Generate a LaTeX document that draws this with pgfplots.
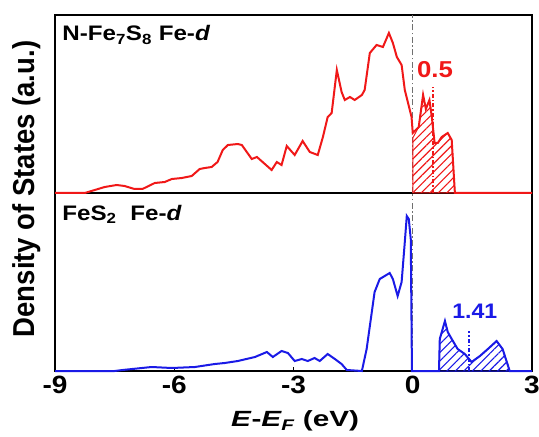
\documentclass[border=0pt]{standalone}
\usepackage{fontspec}
\setmainfont{Liberation Sans}
\usepackage{graphicx}
\usepackage{pgfplots}
\pgfplotsset{compat=1.18}
\usetikzlibrary{patterns.meta}

\definecolor{dosred}{HTML}{F01818}
\definecolor{dosblue}{HTML}{1A1AE6}
\definecolor{fermigray}{HTML}{707070}

% the source figure is stretched sideways, so its lettering is too
\newcommand{\wide}[2][1.15]{\scalebox{#1}[1]{#2}}

\begin{document}
\begin{tikzpicture}
\pgfplotsset{
  dospanel/.style={
    scale only axis,
    width=477pt, height=178pt,
    xmin=-9, xmax=3, ymin=0, ymax=178,
    ytick=\empty,
    axis line style={line width=1.6pt, black},
    clip=false,
  },
  fermi/.style={fermigray, line width=1.4pt, dash pattern=on 6pt off 2.5pt on 1.5pt off 2.5pt, forget plot},
  marker/.style={line width=1.8pt, dash pattern=on 4pt off 2pt on 1.5pt off 2pt, forget plot},
  hatch/.style={line width=1pt, pattern={Lines[angle=45, distance=6pt, line width=1.1pt]}, forget plot},
}

% lower panel: FeS2
\begin{axis}[dospanel, name=bot, at={(0,0)}, anchor=south west,
  xtick={-9,-6,-3,0,3},
  xticklabels={{\wide[1.12]{-9}},{\wide[1.12]{-6}},{\wide[1.12]{-3}},{\wide[1.12]{0}},{\wide[1.12]{3}}},
  xtick pos=bottom, tick align=inside,
  major tick length=4pt,
  tick style={line width=1.2pt, black},
  xticklabel style={font=\fontsize{25}{25}\selectfont\bfseries, yshift=-2pt},
]
\addplot[fermi] coordinates {(0,0) (0,179)};
\addplot[hatch, draw=dosblue, pattern color=dosblue]
  coordinates {
  (0.66,0) (0.68,32) (0.81,50) (0.88,39) (0.98,32) (1.13,22) (1.31,17)
  (1.48,9) (1.69,15) (1.89,22) (2.11,30) (2.26,22) (2.44,0)
  } \closedcycle;
\addplot[dosblue, line width=2pt, forget plot] coordinates {
  (-9.00,0) (-7.50,0) (-7.30,1) (-6.57,4) (-6.06,3) (-5.48,4) (-4.98,7)
  (-4.73,8) (-4.40,10) (-3.97,14) (-3.67,19) (-3.52,14) (-3.30,20)
  (-3.14,18) (-2.97,10) (-2.79,12) (-2.64,10) (-2.47,13) (-2.34,10)
  (-2.14,17) (-1.96,12) (-1.79,7) (-1.66,1) (-1.28,0) (-1.16,22)
  (-1.03,59) (-0.96,79) (-0.83,92) (-0.58,98) (-0.50,92) (-0.38,75)
  (-0.28,89) (-0.20,129) (-0.15,155) (-0.10,152) (-0.05,132) (-0.02,0)
  (0.66,0) (0.68,32) (0.81,50) (0.88,39) (0.98,32) (1.13,22) (1.31,17)
  (1.48,9) (1.69,15) (1.89,22) (2.11,30) (2.26,22) (2.44,0) (3,0)
};
\addplot[marker, dosblue] coordinates {(1.41,0) (1.41,40)};
\node[anchor=west, font=\fontsize{21}{21}\selectfont\bfseries, inner sep=0pt]
  at (axis cs:-8.82,157) {\wide{FeS\textsubscript{2}\hspace{12pt}Fe-\textit{d}}};
\node[dosblue, font=\fontsize{21}{21}\selectfont\bfseries, inner sep=0pt]
  at (axis cs:1.56,60) {\wide[1.1]{1.41}};
\end{axis}

% upper panel: N-Fe7S8
\begin{axis}[dospanel, name=top, at={(bot.north west)}, anchor=south west, xtick=\empty]
\addplot[fermi] coordinates {(0,0) (0,178)};
\addplot[hatch, draw=dosred, pattern color=dosred]
  coordinates {
  (0,55) (0.15,66) (0.26,98) (0.33,84) (0.42,93) (0.48,76) (0.55,50)
  (0.63,50) (0.73,56) (0.88,60) (0.98,53) (1.06,0)
  } \closedcycle;
\addplot[dosred, line width=2pt, forget plot] coordinates {
  (-9.00,0) (-8.25,0) (-8.00,3) (-7.75,6) (-7.45,8) (-7.25,7) (-7.00,4)
  (-6.80,4) (-6.49,10) (-6.24,11) (-6.06,14) (-5.81,15) (-5.56,17)
  (-5.36,24) (-5.23,25) (-5.06,26) (-4.91,31) (-4.78,43) (-4.65,48)
  (-4.40,49) (-4.30,48) (-4.05,34) (-3.92,36) (-3.55,23) (-3.42,31)
  (-3.30,28) (-3.17,47) (-2.97,38) (-2.77,52) (-2.59,41) (-2.39,38)
  (-2.26,56) (-2.14,76) (-2.04,80) (-1.91,123) (-1.79,101) (-1.71,93)
  (-1.58,96) (-1.46,93) (-1.28,98) (-1.21,103) (-1.08,140) (-0.91,148)
  (-0.75,146) (-0.60,160) (-0.50,150) (-0.40,136) (-0.28,128) (-0.20,103)
  (-0.03,76) (0,60)
  (0.15,66) (0.26,98) (0.33,84) (0.42,93) (0.48,76) (0.55,50)
  (0.63,50) (0.73,56) (0.88,60) (0.98,53) (1.06,0) (3,0)
};
\addplot[marker, dosred] coordinates {(0.5,0) (0.5,106)};
\node[anchor=west, font=\fontsize{21}{21}\selectfont\bfseries, inner sep=0pt]
  at (axis cs:-8.82,158) {\wide{N-Fe\textsubscript{7}S\textsubscript{8} Fe-\textit{d}}};
\node[dosred, font=\fontsize{23}{23}\selectfont\bfseries, inner sep=0pt]
  at (axis cs:0.56,123) {\wide[1.12]{0.5}};
\end{axis}

% axis titles
\node[rotate=90, font=\fontsize{27.5}{27.5}\selectfont\bfseries, inner sep=0pt]
  at ([shift={(-28pt,182pt)}]bot.south west) {\scalebox{1}[1.1]{Density of States (a.u.)}};
\node[font=\fontsize{22}{22}\selectfont\bfseries, inner sep=0pt]
  at ([shift={(240pt,-50pt)}]bot.south west) {\wide[1.35]{\textit{E}-\textit{E\textsubscript{F}} (eV)}};

\pgfresetboundingbox
\path ([shift={(-55pt,-65pt)}]bot.south west) rectangle ([shift={(7pt,15pt)}]top.north east);
\end{tikzpicture}
\end{document}
